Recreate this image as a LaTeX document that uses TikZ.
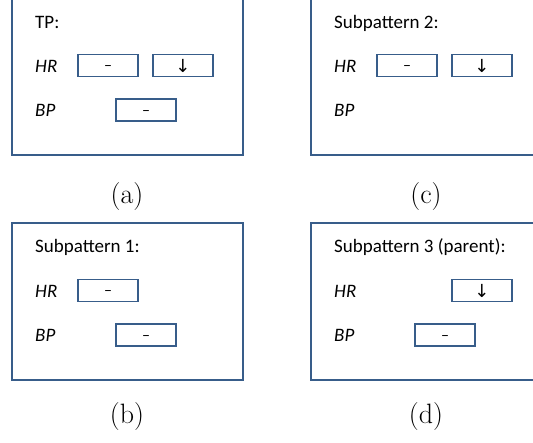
\documentclass[tikz,border=0pt]{standalone}
\usepackage{fontspec}
\newfontfamily\calfont{Carlito}
\newfontfamily\symfont{DejaVu Sans}
\definecolor{boxblue}{HTML}{385D8A}
\begin{document}
\begin{tikzpicture}[x=1pt,y=-1pt,
  panel/.style={draw=boxblue,line width=1.8pt},
  lbl/.style={anchor=base west,inner sep=0pt,font=\calfont\fontsize{19}{22}\selectfont},
  ilbl/.style={lbl,font=\calfont\itshape\fontsize{19}{22}\selectfont},
  sbox/.style={draw=boxblue,line width=1.3pt,minimum width=60pt,minimum height=22pt,inner sep=0pt},
  dshbox/.style={sbox,text height=10pt,text depth=0pt,font=\calfont\fontsize{16}{16}\selectfont},
  dnbox/.style={sbox,text height=13pt,text depth=0pt,font=\symfont\fontsize{18}{20}\selectfont},
  captxt/.style={inner sep=0pt,font=\fontsize{28}{30}\selectfont}]
\useasboundingbox (0,0) rectangle (533,442);
% panel (a)
\draw[panel] (12,-2) rectangle (243,155);
\node[lbl] (ta) at (35,28) {TP:};
\node[ilbl] (hra) at (35,72) {HR};
\node[ilbl] (bpa) at (35,116) {BP};
\node[dshbox] (a1) at (108,65.5) {–};
\node[dnbox] (a2) at (183,65.5) {↓};
\node[dshbox] (a3) at (146,110) {–};
\node[captxt] (capa) at (127,197) {(a)};
% panel (c)
\draw[panel] (311,-2) rectangle (542,155);
\node[lbl] (tc) at (334,28) {Subpattern 2:};
\node[ilbl] (hrc) at (334,72) {HR};
\node[ilbl] (bpc) at (334,116) {BP};
\node[dshbox] (c1) at (407,65.5) {–};
\node[dnbox] (c2) at (482,65.5) {↓};
\node[captxt] (capc) at (426,197) {(c)};
% panel (b)
\draw[panel] (12,223) rectangle (243,380);
\node[lbl] (tb) at (35,252) {Subpattern 1:};
\node[ilbl] (hrb) at (35,297) {HR};
\node[ilbl] (bpb) at (35,341) {BP};
\node[dshbox] (b1) at (108,290.5) {–};
\node[dshbox] (b3) at (146,335) {–};
\node[captxt] (capb) at (127,417) {(b)};
% panel (d)
\draw[panel] (311,223) rectangle (542,380);
\node[lbl] (td) at (334,252) {Subpattern 3 (parent):};
\node[ilbl] (hrd) at (334,297) {HR};
\node[ilbl] (bpd) at (334,341) {BP};
\node[dnbox] (d2) at (482,290.5) {↓};
\node[dshbox] (d3) at (445,335) {–};
\node[captxt] (capd) at (426,417) {(d)};
\end{tikzpicture}
\end{document}
